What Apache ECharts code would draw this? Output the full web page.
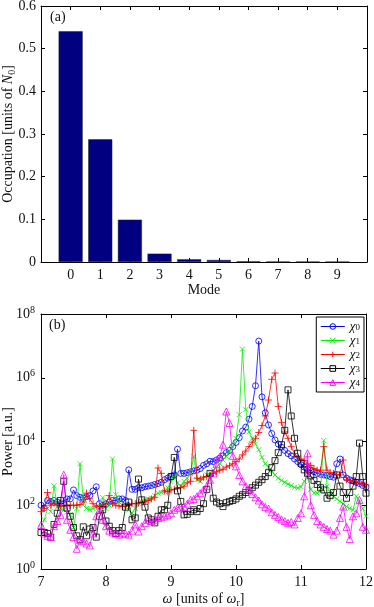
<!DOCTYPE html>
<html>
<head>
<meta charset="utf-8">
<script src="https://cdn.jsdelivr.net/npm/echarts@6/dist/echarts.min.js"></script>
<style>
  html, body { margin: 0; padding: 0; background: #fff; }
  #chart { width: 374px; height: 607px; }
</style>
</head>
<body>
<div id="chart"></div>
<script>
// panel (a): mode occupation
const modes = [0, 1, 2, 3, 4, 5, 6, 7, 8, 9];
const occupation = [0.541, 0.2875, 0.0992, 0.0195, 0.0063, 0.0047, 0.0015, 0.001, 0.0008, 0.0006];

// panel (b): power spectra, omega in units of omega_r
const omega = [
  7.00, 7.05, 7.10, 7.15, 7.20, 7.25, 7.30, 7.35, 7.40, 7.45,
  7.50, 7.55, 7.60, 7.65, 7.70, 7.75, 7.80, 7.85, 7.90, 7.95,
  8.00, 8.05, 8.10, 8.15, 8.20, 8.25, 8.30, 8.35, 8.40, 8.45,
  8.50, 8.55, 8.60, 8.65, 8.70, 8.75, 8.80, 8.85, 8.90, 8.95,
  9.00, 9.05, 9.10, 9.15, 9.20, 9.25, 9.30, 9.35, 9.40, 9.45,
  9.50, 9.55, 9.60, 9.65, 9.70, 9.75, 9.80, 9.85, 9.90, 9.95,
  10.00, 10.05, 10.10, 10.15, 10.20, 10.25, 10.30, 10.35, 10.40, 10.45,
  10.50, 10.55, 10.60, 10.65, 10.70, 10.75, 10.80, 10.85, 10.90, 10.95,
  11.00, 11.05, 11.10, 11.15, 11.20, 11.25, 11.30, 11.35, 11.40, 11.45,
  11.50, 11.55, 11.60, 11.65, 11.70, 11.75, 11.80, 11.85, 11.90, 11.95,
  12.00
];
const chi0 = [
  100, 83, 141, 132, 141, 126, 112, 112, 158, 158,
  302, 200, 178, 166, 186, 200, 282, 380, 112, 100,
  112, 126, 141, 141, 158, 158, 141, 1290, 316, 316,
  355, 355, 380, 398, 417, 447, 479, 525, 631, 708,
  794, 891, 5750, 1000, 1000, 1050, 1120, 1200, 1260, 1410,
  1780, 2000, 2400, 2340, 2630, 3020, 3550, 4470, 5250, 6920,
  9330, 13200, 21400, 28200, 50100, 126000, 562000, 1.41e7, 251000, 79400,
  33100, 17800, 11200, 8320, 6610, 5250, 4170, 3550, 2820, 2340,
  1860, 1580, 1380, 1260, 1120, 1000, 933, 891, 851, 794,
  759, 2000, 2820, 891, 708, 631, 589, 525, 479, 417,
  372
];
const chi1 = [
  20, 35, 79, 63, 407, 89, 79, 71, 60, 50,
  20, 79, 2000, 158, 79, 72, 79, 89, 71, 174,
  79, 100, 2820, 214, 126, 100, 89, 71, 56, 79,
  112, 132, 148, 158, 166, 200, 240, 251, 269, 355,
  550, 891, 501, 398, 562, 708, 1000, 3390, 631, 562,
  708, 891, 1050, 1260, 1580, 2000, 2630, 3390, 5010, 6920,
  12600, 69200, 7.94e6, 100000, 20000, 12600, 8320, 5500, 3160, 2000,
  1580, 1200, 891, 708, 603, 525, 457, 417, 363, 347,
  380, 562, 794, 316, 240, 240, 282, 10700, 398, 251,
  191, 158, 132, 112, 91, 79, 72, 191, 126, 79,
  45
];
const chi2 = [
  63, 79, 251, 100, 112, 100, 95, 100, 95, 100,
  100, 100, 105, 126, 240, 158, 112, 93, 93, 95,
  112, 200, 112, 100, 95, 93, 93, 100, 112, 112,
  117, 126, 126, 141, 158, 178, 1480, 1000, 282, 263,
  302, 316, 331, 355, 398, 501, 562, 22400, 708, 661,
  759, 794, 851, 1000, 1120, 1260, 1350, 1580, 1740, 2000,
  2340, 2820, 3800, 5010, 6920, 9550, 12600, 19100, 31600, 63100,
  200000, 891000, 1.41e6, 126000, 39800, 20000, 12600, 6920, 4170, 3160,
  2820, 2510, 2000, 1780, 1410, 1260, 1260, 6920, 1260, 1050,
  1000, 933, 891, 2630, 631, 603, 562, 525, 501, 468,
  437
];
const chi3 = [
  14, 14, 13, 10, 25, 56, 141, 562, 81, 45,
  20, 11, 8.3, 21, 11, 18, 20, 10, 45, 72,
  32, 22, 16, 13, 16, 20, 87, 126, 35, 40,
  661, 148, 87, 40, 35, 28, 45, 72, 72, 100,
  794, 3160, 282, 132, 50, 52, 63, 72, 63, 79,
  112, 316, 1000, 166, 126, 112, 91, 120, 132, 141,
  158, 191, 214, 251, 295, 355, 427, 525, 631, 794,
  1050, 1510, 2510, 4470, 7940, 22400, 417000, 63100, 12600, 4270,
  2090, 1290, 1000, 832, 603, 447, 355, 302, 166, 200,
  251, 891, 398, 251, 166, 251, 398, 794, 8910, 794,
  240
];
const chi4 = [
  24, 13, 11, 10, 22, 32, 50, 912, 35, 17,
  10, 4.3, 7.9, 7.4, 6.3, 5.5, 13, 45, 72, 35,
  22, 16, 14, 13, 12, 13, 13, 12, 16, 25,
  15, 22, 28, 35, 32, 35, 40, 42, 45, 50,
  56, 72, 83, 91, 89, 112, 148, 158, 191, 240,
  309, 398, 631, 1000, 2000, 3390, 7940, 87100, 38000, 3550,
  1660, 891, 562, 398, 316, 224, 178, 141, 107, 89,
  79, 60, 50, 43, 36, 32, 28, 30, 25, 40,
  56, 191, 4270, 100, 50, 32, 25, 21, 18, 16,
  12, 16, 40, 91, 21, 8.7, 45, 56, 148, 21,
  17
];
const seriesNames = ['χ0', 'χ1', 'χ2', 'χ3', 'χ4'];
const seriesColors = ['#0000ff', '#00f000', '#ff0000', '#000000', '#ff00ff'];

const font = 'Liberation Serif';
const ink = '#111';
const chart = echarts.init(document.getElementById('chart'), null, { renderer: 'canvas' });

const lineBlack = { color: '#000', width: 1 };
function frameX(grid, pos, min, max, extra) {
  return Object.assign({
    gridIndex: grid, type: 'value', position: pos, min: min, max: max, interval: 1,
    axisLine: { show: true, onZero: false, lineStyle: lineBlack },
    axisTick: { show: true, inside: true, length: 4, lineStyle: lineBlack },
    axisLabel: { show: false },
    splitLine: { show: false }
  }, extra || {});
}
function frameY(grid, pos, type, extra) {
  return Object.assign({
    gridIndex: grid, type: type, position: pos,
    axisLine: { show: true, onZero: false, lineStyle: lineBlack },
    axisTick: { show: true, inside: true, length: 4, lineStyle: lineBlack },
    axisLabel: { show: false },
    splitLine: { show: false }
  }, extra || {});
}
const labelStyle = { fontFamily: font, fontSize: 14, color: ink };
const subRich = {
  i: { fontFamily: font, fontSize: 14, fontStyle: 'italic', color: ink, lineHeight: 18 },
  s: { fontFamily: font, fontSize: 10, color: ink, lineHeight: 10, verticalAlign: 'bottom' }
};

const xAxes = [
  frameX(0, 'bottom', -1, 10, {
    axisLabel: Object.assign({ show: true, margin: 6, formatter: v => (v < 0 || v > 9) ? '' : String(v) }, labelStyle),
    name: 'Mode', nameLocation: 'middle', nameGap: 21,
    nameTextStyle: labelStyle
  }),
  frameX(0, 'top', -1, 10),
  frameX(1, 'bottom', 7, 12, {
    axisLabel: Object.assign({ show: true, margin: 6 }, labelStyle),
    name: '{i|ω} [units of {i|ω}{s|r}]', nameLocation: 'middle', nameGap: 20,
    nameTextStyle: Object.assign({ rich: subRich, lineHeight: 18 }, labelStyle)
  }),
  frameX(1, 'top', 7, 12)
];
const yAxes = [
  frameY(0, 'left', 'value', {
    min: 0, max: 0.6, interval: 0.1,
    axisLabel: Object.assign({ show: true, margin: 5 }, labelStyle),
    name: 'Occupation [units of {i|N}{s|0}]', nameLocation: 'middle', nameGap: 24, nameRotate: 90,
    nameMoveOverlap: false,
    nameTextStyle: Object.assign({ rich: subRich, lineHeight: 18 }, labelStyle)
  }),
  frameY(0, 'right', 'value', { min: 0, max: 0.6, interval: 0.1 }),
  frameY(1, 'left', 'log', {
    logBase: 10, min: 1, max: 1e8, interval: 2,
    axisLabel: {
      show: true, margin: 6,
      formatter: v => '{b|10}{p|' + Math.round(Math.log10(v)) + '}',
      rich: {
        b: { fontFamily: font, fontSize: 14, color: ink, lineHeight: 18 },
        p: { fontFamily: font, fontSize: 10, color: ink, lineHeight: 10, verticalAlign: 'top' }
      }
    },
    name: 'Power [a.u.]', nameLocation: 'middle', nameGap: 24, nameRotate: 90,
    nameMoveOverlap: false,
    nameTextStyle: Object.assign({ lineHeight: 18 }, labelStyle)
  }),
  frameY(1, 'right', 'log', { logBase: 10, min: 1, max: 1e8, interval: 2 })
];

const symbols = [
  { symbol: 'circle', size: 6 },
  { symbol: 'path://M0,0L10,10M10,0L0,10', size: 5 },
  { symbol: 'path://M5,0L5,10M0,5L10,5', size: 7 },
  { symbol: 'rect', size: 6 },
  { symbol: 'triangle', size: 7 }
];
const hollow = k => ({ color: 'rgba(0,0,0,0)', borderColor: seriesColors[k], borderWidth: 0.8 });
const spectra = [chi0, chi1, chi2, chi3, chi4];
const lineSeries = spectra.map((vals, k) => ({
  name: seriesNames[k],
  type: 'line',
  xAxisIndex: 2,
  yAxisIndex: 2,
  data: omega.map((w, i) => [w, vals[i]]),
  symbol: symbols[k].symbol,
  symbolSize: symbols[k].size,
  symbolKeepAspect: true,
  lineStyle: { color: seriesColors[k], width: 0.8 },
  itemStyle: hollow(k),
  emphasis: { disabled: true },
  z: 2 + k
}));

const option = {
  animation: false,
  backgroundColor: '#fff',
  grid: [
    { left: 41, top: 6, width: 326, height: 256, containLabel: false, outerBoundsMode: 'none' },
    { left: 41, top: 314, width: 325, height: 255, containLabel: false, outerBoundsMode: 'none' }
  ],
  xAxis: xAxes,
  yAxis: yAxes,
  legend: {
    data: seriesNames.map((n, k) => ({
      name: n,
      itemStyle: { color: 'rgba(0,0,0,0)', borderColor: seriesColors[k], borderWidth: 1 },
      lineStyle: { color: seriesColors[k], width: 1 }
    })),
    orient: 'vertical',
    right: 10,
    top: 317,
    itemWidth: 24,
    itemHeight: 7,
    itemGap: 1,
    padding: [3, 4, 3, 4],
    backgroundColor: '#fff',
    borderColor: '#000',
    borderWidth: 1,
    formatter: n => '{c|χ}{s|' + n.slice(1) + '}',
    textStyle: {
      fontFamily: font, fontSize: 12, color: ink,
      rich: {
        c: { fontFamily: font, fontSize: 13, fontStyle: 'italic', color: ink, lineHeight: 11 },
        s: { fontFamily: font, fontSize: 9, color: ink, lineHeight: 8, verticalAlign: 'bottom' }
      }
    }
  },
  graphic: [
    { type: 'text', left: 50, top: 10, style: { text: '(a)', fontFamily: font, fontSize: 14, fill: ink } },
    { type: 'text', left: 49, top: 318, style: { text: '(b)', fontFamily: font, fontSize: 14, fill: ink } }
  ],
  series: [
    {
      name: 'occupation',
      type: 'bar',
      xAxisIndex: 0,
      yAxisIndex: 0,
      data: modes.map((m, i) => [m, occupation[i]]),
      barWidth: 24,
      itemStyle: { color: '#000080', borderColor: '#222', borderWidth: 0.5 },
      emphasis: { disabled: true }
    }
  ].concat(lineSeries)
};

chart.setOption(option);
</script>
</body>
</html>
